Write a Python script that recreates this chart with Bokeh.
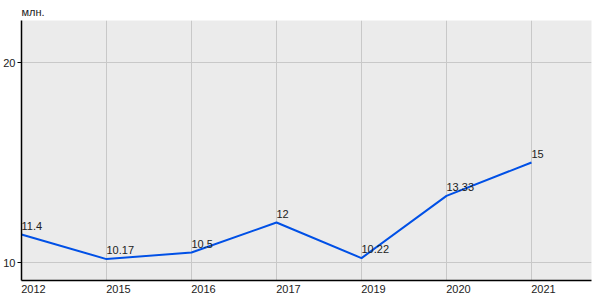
from bokeh.plotting import figure
from bokeh.models import ColumnDataSource, FixedTicker, Range1d, CustomJSTickFormatter
from bokeh.core.properties import value
from bokeh.embed import file_html
from bokeh.resources import INLINE

years = ["2012", "2015", "2016", "2017", "2019", "2020", "2021"]
values = [11.4, 10.17, 10.5, 12, 10.22, 13.33, 15]
labels = ["11.4", "10.17", "10.5", "12", "10.22", "13.33", "15"]
y_ticks = [10, 20]

xs = list(range(len(years)))
src = ColumnDataSource(dict(x=xs, y=values, lab=labels))

FONT = "Liberation Sans"

p = figure(width=600, height=300, output_backend="svg", toolbar_location=None,
           x_range=Range1d(0, 6.706), y_range=Range1d(9.1, 22.1),
           min_border_left=20, min_border_right=9, min_border_top=20, min_border_bottom=20,
           title="млн.")
p.title.text_font = FONT
p.title.text_font_size = "11px"
p.title.text_font_style = "normal"
p.title.text_color = "#222222"
p.title.offset = 0
p.title.standoff = 5

p.background_fill_color = "#ebebeb"
p.border_fill_color = "white"
p.outline_line_color = None

p.xgrid.ticker = FixedTicker(ticks=xs)
p.ygrid.ticker = FixedTicker(ticks=y_ticks)
p.xgrid.grid_line_color = "#c8c8c8"
p.ygrid.grid_line_color = "#c8c8c8"

# labels drawn left-aligned at each category: shift label anchors by half a label width
p.xaxis.ticker = FixedTicker(ticks=[i + 0.14 for i in xs])
p.xaxis.formatter = CustomJSTickFormatter(args=dict(years=years),
                                          code="return years[Math.round(tick)] || '';")
p.xaxis.major_tick_out = 0
p.xaxis.major_tick_in = 0
p.xaxis.minor_tick_line_color = None
p.xaxis.major_label_standoff = 4

p.yaxis.ticker = FixedTicker(ticks=y_ticks)
p.yaxis.major_tick_out = 4
p.yaxis.major_tick_in = 0
p.yaxis.minor_tick_line_color = None
p.yaxis.major_label_standoff = 2

for ax in (p.xaxis, p.yaxis):
    ax.axis_line_color = "black"
    ax.axis_line_width = 1.5
    ax.major_tick_line_color = "black"
    ax.major_label_text_font = FONT
    ax.major_label_text_font_size = "11px"
    ax.major_label_text_color = "#222222"

p.line("x", "y", source=src, line_color="#0050e6", line_width=2)
p.text("x", "y", text="lab", source=src, text_font=value(FONT), text_font_size="11px",
       text_color="#222222", text_align="left", text_baseline="bottom", y_offset=-5)

open("out.html", "w").write(file_html(p, INLINE))
